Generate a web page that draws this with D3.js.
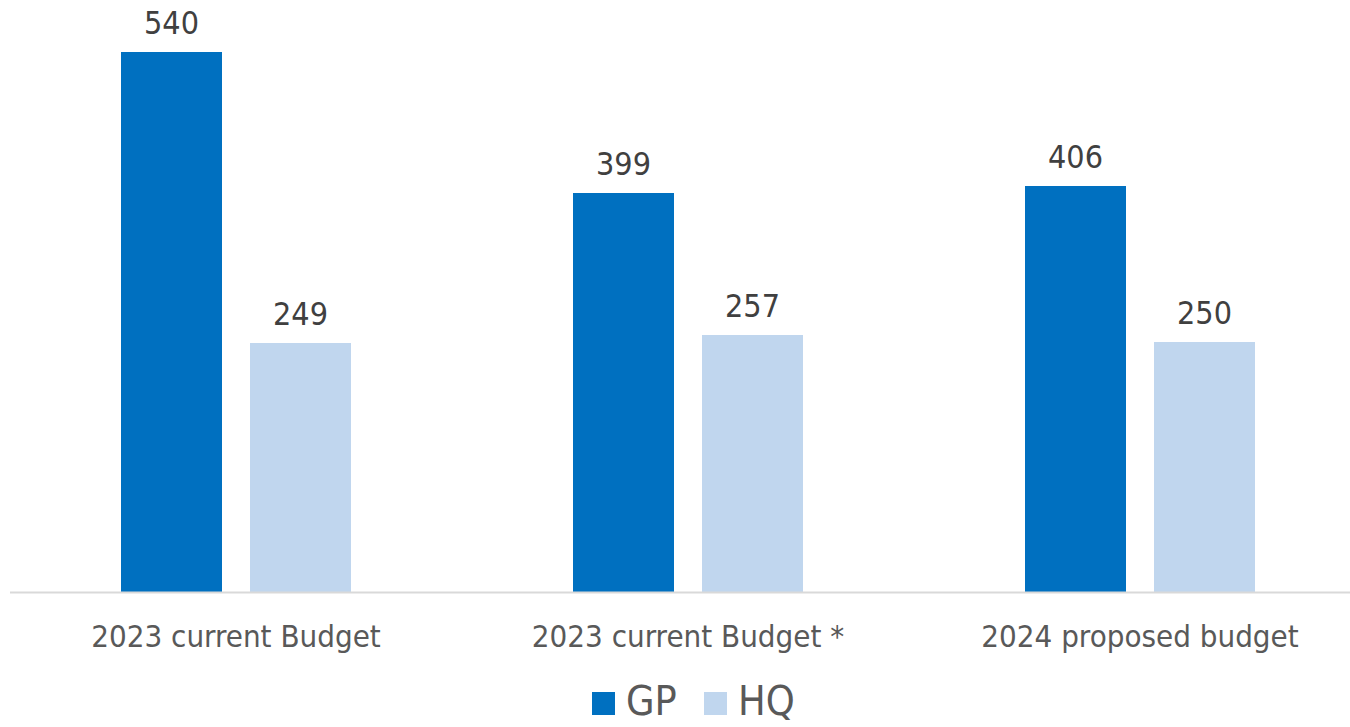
<!DOCTYPE html>
<html>
<head>
<meta charset="utf-8">
<script src="https://cdn.jsdelivr.net/npm/d3@7"></script>
<style>
  html, body { margin: 0; padding: 0; background: #fff; }
  svg { display: block; }
  text { font-family: "DejaVu Sans Condensed", "DejaVu Sans", sans-serif; }
</style>
</head>
<body>
<svg id="chart" width="1350" height="727"></svg>
<script>
// Budget headcount by category
const categories = ["2023 current Budget", "2023 current Budget *", "2024 proposed budget"];
const seriesNames = ["GP", "HQ"];
const gpValues = [540, 399, 406];
const hqValues = [249, 257, 250];
const seriesColors = ["#0070C0", "#C0D6EE"];

const W = 1350, H = 727;
const baseY = 592;
const svg = d3.select("#chart");

const x0 = d3.scaleBand().domain(categories).range([10, 1366]);
const x1 = d3.scaleBand().domain(seriesNames).range([0, 230]).paddingInner(28 / 129);
const y = d3.scaleLinear().domain([0, 540]).range([baseY, baseY - 540]);

const rows = categories.map((c, i) => ({ cat: c, vals: [gpValues[i], hqValues[i]] }));

const groups = svg.selectAll("g.cat").data(rows).join("g")
  .attr("class", "cat")
  .attr("transform", d => `translate(${x0(d.cat) + x0.bandwidth() / 2 - 115},0)`);

groups.selectAll("rect").data(d => d.vals.map((v, k) => ({ key: seriesNames[k], v, k })))
  .join("rect")
  .attr("x", d => x1(d.key))
  .attr("width", x1.bandwidth())
  .attr("y", d => y(d.v))
  .attr("height", d => y(0) - y(d.v))
  .attr("fill", d => seriesColors[d.k]);

groups.selectAll("text.val").data(d => d.vals.map((v, k) => ({ key: seriesNames[k], v, k })))
  .join("text")
  .attr("class", "val")
  .attr("x", d => x1(d.key) + x1.bandwidth() / 2)
  .attr("y", d => y(d.v) - 18)
  .attr("text-anchor", "middle")
  .attr("font-size", 32)
  .attr("fill", "#404040")
  .text(d => d.v);

// Category axis
svg.append("line")
  .attr("x1", 10).attr("x2", W)
  .attr("y1", baseY + 0.5).attr("y2", baseY + 0.5)
  .attr("stroke", "#d9d9d9").attr("stroke-width", 2);

svg.selectAll("text.cat").data(categories).join("text")
  .attr("class", "cat")
  .attr("x", d => x0(d) + x0.bandwidth() / 2)
  .attr("y", 647)
  .attr("text-anchor", "middle")
  .attr("font-size", 31)
  .attr("fill", "#595959")
  .text(d => d);

// Legend
const legendItems = [
  { name: "GP", color: seriesColors[0], x: 592 },
  { name: "HQ", color: seriesColors[1], x: 704 }
];
const lg = svg.selectAll("g.legend").data(legendItems).join("g")
  .attr("class", "legend")
  .attr("transform", d => `translate(${d.x},692)`);
lg.append("rect").attr("width", 23).attr("height", 23).attr("fill", d => d.color);
lg.append("text")
  .attr("x", 34).attr("y", 23)
  .attr("font-size", 41)
  .attr("fill", "#595959")
  .text(d => d.name);
</script>
</body>
</html>
